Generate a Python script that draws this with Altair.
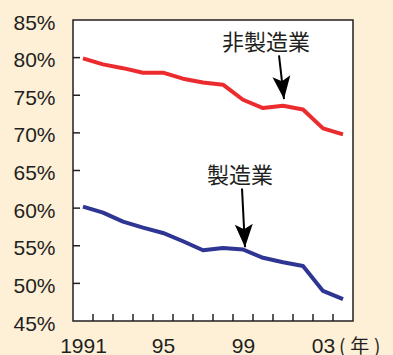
import altair as alt
import pandas as pd

# ---- data ----
years = list(range(1991, 2005))
non_mfg = [79.9, 79.1, 78.6, 78.0, 78.0, 77.2, 76.7, 76.4, 74.4, 73.3, 73.6, 73.1, 70.6, 69.8]
mfg = [60.2, 59.4, 58.2, 57.4, 56.7, 55.6, 54.4, 54.7, 54.5, 53.4, 52.8, 52.3, 49.0, 47.9]
series_names = ["非製造業", "製造業"]
series_colors = ["#EC2B2E", "#2E3592"]

y_ticks = [45, 50, 55, 60, 65, 70, 75, 80, 85]
x_label_years = [1991, 1995, 1999, 2003]
x_tick_marks = [y + 0.5 for y in range(1991, 2004)]

label_text = ["非製造業", "製造業"]
label_x = [2000.15, 1998.85]
label_y = [81.9, 64.3]

arrow_x = [2000.8, 1998.95]
arrow_y = [80.3, 62.6]
arrow_x2 = [2001.05, 1999.1]
arrow_y2 = [74.5, 54.8]
arrow_angle = [353.5, 357]

W, H = 280, 301
FONT = "Liberation Sans"
CJK = "Noto Sans CJK JP"
INK = "#231F20"

df = pd.DataFrame({
    "year": years * 2,
    "value": non_mfg + mfg,
    "series": [series_names[0]] * len(years) + [series_names[1]] * len(years),
})

xscale = alt.Scale(domain=[1990.5, 2004.5], nice=False, zero=False)
yscale = alt.Scale(domain=[45, 85], nice=False, zero=False)

xaxis = alt.Axis(values=x_label_years, title=None, grid=False, domain=False,
                 ticks=False, labelFont=FONT, labelFontSize=21, labelColor=INK,
                 labelPadding=14, labelFlush=False, labelOverlap=False,
                 labelExpr="datum.value == 1991 ? '1991' : slice(toString(datum.value), 2)")
yaxis = alt.Axis(values=y_ticks, title=None, grid=False, domain=False, ticks=False,
                 labelFont=FONT, labelFontSize=21, labelColor=INK, labelPadding=18,
                 labelOffset=3, labelFlush=False, labelOverlap=False,
                 labelExpr="datum.value + '%'")

lines = alt.Chart(df).mark_line(strokeWidth=4, strokeJoin="round").encode(
    x=alt.X("year:Q", scale=xscale, axis=xaxis),
    y=alt.Y("value:Q", scale=yscale, axis=yaxis),
    color=alt.Color("series:N", scale=alt.Scale(domain=series_names, range=series_colors), legend=None),
)

xt = alt.Chart(pd.DataFrame({"t": x_tick_marks})).mark_rule(color=INK, strokeWidth=1.5).encode(
    x=alt.X("t:Q", scale=xscale, axis=xaxis), y=alt.value(H), y2=alt.value(H - 7))

yt = alt.Chart(pd.DataFrame({"t": y_ticks[1:-1]})).mark_rule(color=INK, strokeWidth=1.5).encode(
    y=alt.Y("t:Q", scale=yscale, axis=yaxis), x=alt.value(0), x2=alt.value(7))

labels = alt.Chart(pd.DataFrame({"text": label_text, "x": label_x, "y": label_y})).mark_text(
    font=CJK, fontSize=22, color=INK, align="center", baseline="middle").encode(
    x=alt.X("x:Q", scale=xscale, axis=xaxis), y=alt.Y("y:Q", scale=yscale, axis=yaxis), text="text:N")

adf = pd.DataFrame({"x": arrow_x, "y": arrow_y, "x2": arrow_x2, "y2": arrow_y2, "angle": arrow_angle})
shafts = alt.Chart(adf).mark_rule(color="black", strokeWidth=2).encode(
    x=alt.X("x:Q", scale=xscale, axis=xaxis), y=alt.Y("y:Q", scale=yscale, axis=yaxis),
    x2="x2:Q", y2="y2:Q")
heads = alt.Chart(adf).mark_point(
    shape="M0,0 L-0.39,-1 L0,-0.78 L0.39,-1 Z", size=2116, filled=True, color="black", opacity=1,
    strokeWidth=0).encode(
    x=alt.X("x2:Q", scale=xscale, axis=xaxis), y=alt.Y("y2:Q", scale=yscale, axis=yaxis),
    angle=alt.Angle("angle:Q", scale=None))

unit = alt.Chart(pd.DataFrame({"t": ["(\u2005年\u2005)"]})).mark_text(
    font=CJK, fontSize=19, color=INK, align="left", baseline="alphabetic").encode(
    x=alt.value(W - 14), y=alt.value(H + 32), text="t:N")

chart = alt.layer(lines, xt, yt, shafts, heads, labels, unit).properties(
    width=W, height=H, background="#FEEFD7",
    padding={"left": 73, "top": 20, "right": 40, "bottom": 34},
    autosize=alt.AutoSizeParams(type="none"),
).configure_view(stroke=INK, strokeWidth=1.5, fill="white")

chart.save("out.html", embed_options={"renderer": "svg", "actions": False})
